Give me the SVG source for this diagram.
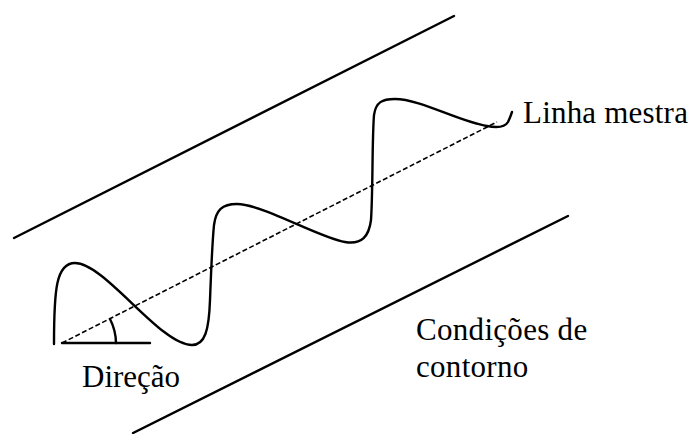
<svg xmlns="http://www.w3.org/2000/svg" width="693" height="434" viewBox="0 0 693 434">
<style>
.ln{stroke:#000;stroke-width:2.4;fill:none;stroke-linecap:round;stroke-linejoin:round}
.dash{stroke:#000;stroke-width:1.6;fill:none;stroke-dasharray:5 2.5}
.lbl{font-family:'Liberation Serif','Times New Roman',serif;font-size:31px;fill:#000}
</style>
<rect width="693" height="434" fill="#fff"/>
<g id="boundaries">
<line class="ln" x1="14" y1="238" x2="454" y2="16"/>
<line class="ln" x1="133" y1="433" x2="568" y2="216"/>
</g>
<g id="master-line">
<line class="dash" x1="62" y1="343" x2="497" y2="122"/>
</g>
<g id="wave">
<path class="ln" d="M54,344 C54,290 56,263 75,263 C105,263 160,345 192,345 C205,345 209,330 210,300 C211,275 212,245 214,225 C216,210 222,204 237,204 C262,204 320,238 345,242 C362,245 369,236 371,220 C373,190 372,140 374,115 C376,102 382,99 395,99 C420,99 460,122 487,126 C497,128 505,127 508,122 C510,118 511,115 512,112"/>
</g>
<g id="direction">
<line class="ln" x1="62" y1="343" x2="150" y2="343"/>
<path class="ln" d="M110,319 A54,54 0 0 1 116,343"/>
</g>
<g id="labels">
<text class="lbl" x="523" y="123" style="letter-spacing:0.2px">Linha mestra</text>
<text class="lbl" x="82" y="387">Direção</text>
<text class="lbl" x="416" y="340" style="letter-spacing:0.3px">Condições de</text>
<text class="lbl" x="416" y="377" style="letter-spacing:0.3px">contorno</text>
</g>
</svg>
